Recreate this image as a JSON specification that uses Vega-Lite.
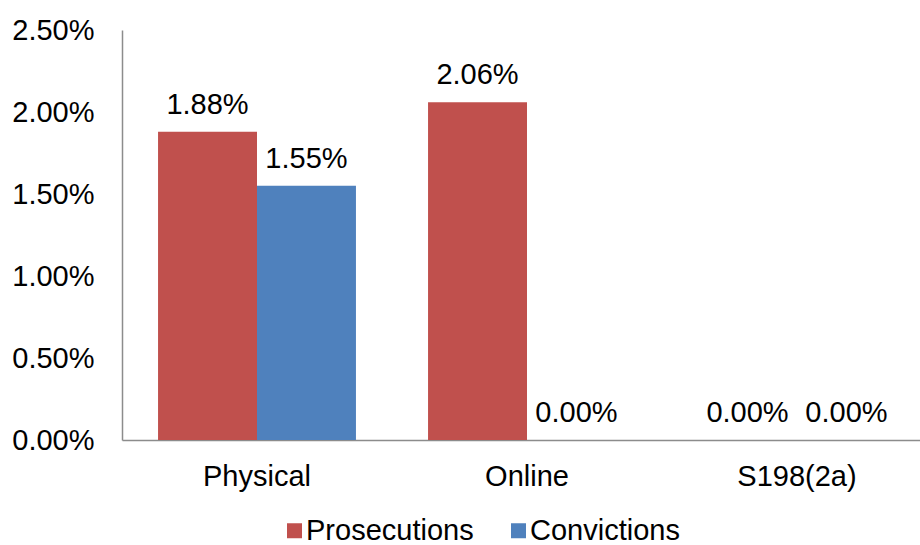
{
  "$schema": "https://vega.github.io/schema/vega-lite/v6.json",
  "width": 810,
  "height": 410,
  "autosize": {"type": "none"},
  "padding": {"left": 122, "top": 30, "right": 0, "bottom": 105},
  "background": "white",
  "config": {
    "view": {"stroke": null},
    "font": "Liberation Sans",
    "axis": {"labelFont": "Liberation Sans", "labelColor": "#000000", "labelFontSize": 29, "grid": false, "ticks": false, "domainColor": "#8c8c8c", "domainWidth": 1.5, "title": null},
    "legend": {"labelFont": "Liberation Sans", "labelFontSize": 29, "labelColor": "#000000", "labelLimit": 400}
  },
  "data": {
    "values": [
      {"category": "Physical", "series": "Prosecutions", "value": 0.0188},
      {"category": "Physical", "series": "Convictions", "value": 0.0155},
      {"category": "Online", "series": "Prosecutions", "value": 0.0206},
      {"category": "Online", "series": "Convictions", "value": 0.0},
      {"category": "S198(2a)", "series": "Prosecutions", "value": 0.0},
      {"category": "S198(2a)", "series": "Convictions", "value": 0.0}
    ]
  },
  "encoding": {
    "x": {
      "field": "category",
      "type": "nominal",
      "sort": ["Physical", "Online", "S198(2a)"],
      "scale": {"paddingInner": 0.267, "paddingOuter": 0.1335},
      "axis": {"labelAngle": 0, "labelPadding": 22}
    },
    "xOffset": {"field": "series", "type": "nominal", "sort": ["Prosecutions", "Convictions"], "scale": {"paddingInner": 0, "paddingOuter": 0}},
    "y": {
      "field": "value",
      "type": "quantitative",
      "scale": {"domain": [0, 0.025], "nice": false},
      "axis": {"values": [0, 0.005, 0.01, 0.015, 0.02, 0.025], "format": ".2%", "labelPadding": 28}
    }
  },
  "layer": [
    {
      "mark": {"type": "bar"},
      "encoding": {
        "color": {
          "field": "series",
          "type": "nominal",
          "sort": ["Prosecutions", "Convictions"],
          "scale": {"domain": ["Prosecutions", "Convictions"], "range": ["#C0504D", "#4F81BD"]},
          "legend": {"title": null, "orient": "none", "direction": "horizontal", "legendX": 158, "legendY": 486, "symbolType": "square", "symbolSize": 225, "symbolStrokeWidth": 0, "symbolOpacity": 1, "columnPadding": 30, "labelOffset": -3}
        }
      }
    },
    {
      "mark": {"type": "text", "baseline": "alphabetic", "dy": -18, "fontSize": 29, "font": "Liberation Sans", "color": "#000000"},
      "encoding": {
        "text": {"field": "value", "type": "quantitative", "format": ".2%"}
      }
    }
  ]
}
